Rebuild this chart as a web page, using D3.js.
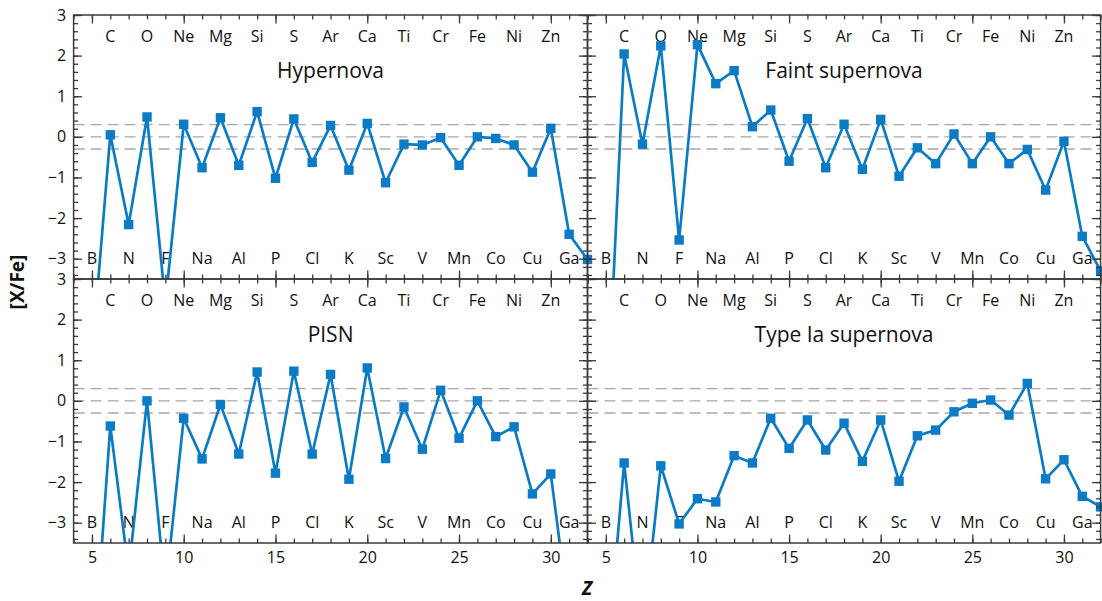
<!DOCTYPE html>
<html><head><meta charset="utf-8">
<script src="https://cdn.jsdelivr.net/npm/d3@7"></script>
<style>
body{margin:0;background:#fff;}
svg{display:block;font-family:"Open Sans",sans-serif;}
</style></head>
<body><svg id="c" width="1102" height="601"></svg>
<script>
// ---- data ----
const Z = [5,6,7,8,9,10,11,12,13,14,15,16,17,18,19,20,21,22,23,24,25,26,27,28,29,30,31,32];
const elementsOdd = [[5,"B"],[7,"N"],[9,"F"],[11,"Na"],[13,"Al"],[15,"P"],[17,"Cl"],[19,"K"],[21,"Sc"],[23,"V"],[25,"Mn"],[27,"Co"],[29,"Cu"],[31,"Ga"]];
const elementsEven = [[6,"C"],[8,"O"],[10,"Ne"],[12,"Mg"],[14,"Si"],[16,"S"],[18,"Ar"],[20,"Ca"],[22,"Ti"],[24,"Cr"],[26,"Fe"],[28,"Ni"],[30,"Zn"]];
const hypernova = [-5.4,0.05,-2.16,0.49,-4.1,0.31,-0.76,0.47,-0.70,0.62,-1.02,0.44,-0.63,0.28,-0.82,0.33,-1.13,-0.18,-0.20,-0.02,-0.70,0.00,-0.04,-0.20,-0.87,0.21,-2.40,-3.02];
const faint = [-7.5,2.04,-0.18,2.24,-2.54,2.27,1.31,1.63,0.25,0.66,-0.60,0.45,-0.76,0.31,-0.80,0.43,-0.97,-0.27,-0.66,0.07,-0.66,0.00,-0.66,-0.31,-1.31,-0.11,-2.45,-3.30];
const pisn = [-7.0,-0.62,-4.2,0.00,-4.7,-0.43,-1.43,-0.09,-1.31,0.71,-1.78,0.73,-1.31,0.65,-1.93,0.81,-1.42,-0.15,-1.19,0.26,-0.92,0.00,-0.88,-0.64,-2.29,-1.80,-5.3,null];
const typeIa = [-6.7,-1.53,-5.8,-1.60,-3.03,-2.41,-2.49,-1.35,-1.53,-0.43,-1.17,-0.47,-1.21,-0.55,-1.49,-0.47,-1.98,-0.86,-0.72,-0.27,-0.06,0.02,-0.35,0.43,-1.92,-1.45,-2.35,-2.61];
const titles = ["Hypernova","Faint supernova","PISN","Type Ia supernova"];
const yTicks = [-3,-2,-1,0,1,2,3];
const xTicks = [5,10,15,20,25,30];
const refLines = [0.3,0,-0.3];

// ---- layout ----
const svg = d3.select("#c");
const blue = "#0b7bc6";
const axisCol = "#3a3a3a";
const colX = [[73.6,587.5],[587.5,1100.6]];
const rowY = [[15,279],[279,543]];
const series = [hypernova, faint, pisn, typeIa];

const defs = svg.append("defs");

series.forEach((vals, i) => {
  const col = i % 2, row = Math.floor(i / 2);
  const x = d3.scaleLinear().domain([4,32]).range(colX[col]);
  const y = d3.scaleLinear().domain([-3.5,3]).range([rowY[row][1], rowY[row][0]]);
  const g = svg.append("g");
  const cid = "clip" + i;
  defs.append("clipPath").attr("id", cid).append("rect")
    .attr("x", colX[col][0] - 8).attr("y", rowY[row][0])
    .attr("width", colX[col][1] - colX[col][0] + 16).attr("height", rowY[row][1] - rowY[row][0]);

  // reference dashed lines
  g.selectAll(".ref").data(refLines).join("line")
    .attr("x1", colX[col][0]).attr("x2", colX[col][1])
    .attr("y1", d => y(d)).attr("y2", d => y(d))
    .attr("stroke", "#a8a8a8").attr("stroke-width", 1.4).attr("stroke-dasharray", "11,6");

  // element labels
  g.selectAll(".eo").data(elementsOdd).join("text")
    .attr("x", d => x(d[0])).attr("y", y(-3.0)).attr("dy", "0.36em")
    .attr("text-anchor", "middle").attr("font-size", 16).attr("fill", "#111").text(d => d[1]);
  g.selectAll(".ee").data(elementsEven).join("text")
    .attr("x", d => x(d[0])).attr("y", y(2.47)).attr("dy", "0.36em")
    .attr("text-anchor", "middle").attr("font-size", 16).attr("fill", "#111").text(d => d[1]);

  // title
  g.append("text").attr("x", x(18)).attr("y", y(1.44)).attr("text-anchor", "middle")
    .attr("font-size", 21).attr("fill", "#111").text(titles[i]);

  // data
  const pts = Z.map((z, k) => [z, vals[k]]).filter(d => d[1] !== null);
  const dg = g.append("g").attr("clip-path", `url(#${cid})`);
  dg.append("path").datum(pts)
    .attr("d", d3.line().x(d => x(d[0])).y(d => y(d[1])))
    .attr("fill", "none").attr("stroke", blue).attr("stroke-width", 2.7).attr("stroke-linejoin", "round");
  dg.selectAll("rect").data(pts).join("rect")
    .attr("x", d => x(d[0]) - 4.7).attr("y", d => y(d[1]) - 4.7)
    .attr("width", 9.4).attr("height", 9.4).attr("fill", blue);

  // axes (inward ticks)
  const minorY = d3.range(-3.4, 3.01, 0.2).map(v => +v.toFixed(1));
  const minorX = d3.range(4, 33, 1);
  const mk = (axisFn, scale, vals, size, fmt, pad) =>
    axisFn(scale).tickValues(vals).tickSize(size).tickPadding(pad || 3).tickFormat(fmt);
  const none = () => "";
  const addAxis = (ax, tx, ty) => {
    const a = g.append("g").attr("transform", `translate(${tx},${ty})`).call(ax);
    a.select(".domain").remove();
    a.selectAll("line").attr("stroke", axisCol).attr("stroke-width", 1.3);
    a.selectAll("text").attr("font-size", 16).attr("fill", "#111").attr("font-family", "'Open Sans',sans-serif");
    return a;
  };
  // left
  addAxis(mk(d3.axisLeft, y, yTicks, -8.5, col === 0 ? d3.format("") : none, 7.5), colX[col][0], 0);
  addAxis(mk(d3.axisLeft, y, minorY, -4.5, none), colX[col][0], 0);
  // right
  addAxis(mk(d3.axisRight, y, yTicks, -8.5, none), colX[col][1], 0);
  addAxis(mk(d3.axisRight, y, minorY, -4.5, none), colX[col][1], 0);
  // top
  addAxis(mk(d3.axisTop, x, xTicks, -8.5, none), 0, rowY[row][0]);
  addAxis(mk(d3.axisTop, x, minorX, -4.5, none), 0, rowY[row][0]);
  // bottom
  addAxis(mk(d3.axisBottom, x, xTicks, -8.5, row === 1 ? d3.format("") : none, 9), 0, rowY[row][1]);
  addAxis(mk(d3.axisBottom, x, minorX, -4.5, none), 0, rowY[row][1]);

  // frame
  g.append("rect").attr("x", colX[col][0]).attr("y", rowY[row][0])
    .attr("width", colX[col][1] - colX[col][0]).attr("height", rowY[row][1] - rowY[row][0])
    .attr("fill", "none").attr("stroke", axisCol).attr("stroke-width", 1.5);
});

// axis titles
svg.append("text").attr("transform", "translate(24,282) rotate(-90)")
  .attr("text-anchor", "middle").attr("font-size", 19).attr("font-weight", "bold").attr("fill", "#111").text("[X/Fe]");
svg.append("text").attr("x", 587).attr("y", 595).attr("text-anchor", "middle")
  .attr("font-size", 19).attr("font-weight", "bold").attr("font-style", "italic").attr("fill", "#111").text("Z");
</script></body></html>
